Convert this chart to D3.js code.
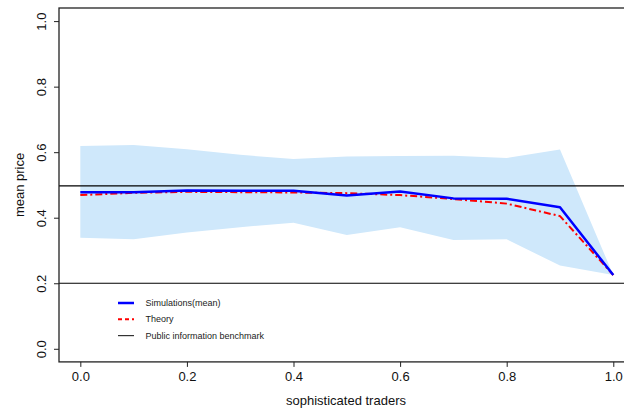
<!DOCTYPE html>
<html>
<head>
<meta charset="utf-8">
<script src="https://cdn.jsdelivr.net/npm/d3@7"></script>
<style>
  html, body { margin: 0; padding: 0; background: #fff; }
  svg { display: block; font-family: "Liberation Sans", Arial, sans-serif; }
</style>
</head>
<body>
<svg id="chart" width="624" height="409"></svg>
<script>
// Share of sophisticated traders
const shares = [0.0, 0.1, 0.2, 0.3, 0.4, 0.5, 0.6, 0.7, 0.8, 0.9, 1.0];
// Mean simulated price
const simMean = [0.478, 0.478, 0.483, 0.482, 0.482, 0.468, 0.480, 0.459, 0.458, 0.432, 0.225];
// Theoretical price
const theory = [0.469, 0.476, 0.479, 0.478, 0.477, 0.475, 0.469, 0.457, 0.443, 0.405, 0.225];
// Simulation range (band)
const bandUpper = [0.619, 0.622, 0.609, 0.592, 0.579, 0.587, 0.588, 0.589, 0.582, 0.608, 0.225];
const bandLower = [0.339, 0.334, 0.355, 0.371, 0.385, 0.347, 0.371, 0.332, 0.334, 0.254, 0.225];
// Public information benchmark levels
const benchmarks = [0.497, 0.2];
// Axis ticks
const xTicks = [0, 0.2, 0.4, 0.6, 0.8, 1.0];
const yTicks = [0, 0.2, 0.4, 0.6, 0.8, 1.0];
const legendItems = ["Simulations(mean)", "Theory", "Public information benchmark"];

const svg = d3.select("#chart");

// Plot region with 4% padding on each side of the data range
const x = d3.scaleLinear().domain([-0.04, 1.04]).range([59, 634.6]);
const y = d3.scaleLinear().domain([-0.04, 1.04]).range([361.9, 8]);

const data = shares.map((s, i) => ({
  s, mean: simMean[i], th: theory[i], lo: bandLower[i], hi: bandUpper[i]
}));

// Range band
svg.append("path")
  .datum(data)
  .attr("fill", "#cfe8fb")
  .attr("d", d3.area().x(d => x(d.s)).y0(d => y(d.lo)).y1(d => y(d.hi)));

// Benchmark lines spanning the full plot width
svg.selectAll(".bench")
  .data(benchmarks)
  .enter().append("line")
  .attr("x1", x(-0.04)).attr("x2", x(1.04))
  .attr("y1", d => y(d)).attr("y2", d => y(d))
  .attr("stroke", "#000").attr("stroke-width", 1.2);

// Theory line (dash-dot)
svg.append("path")
  .datum(data)
  .attr("fill", "none")
  .attr("stroke", "#ff0000")
  .attr("stroke-width", 2)
  .attr("stroke-dasharray", "7,3,2,3")
  .attr("d", d3.line().x(d => x(d.s)).y(d => y(d.th)));

// Simulation mean line
svg.append("path")
  .datum(data)
  .attr("fill", "none")
  .attr("stroke", "#0000ff")
  .attr("stroke-width", 2.5)
  .attr("stroke-linejoin", "round")
  .attr("d", d3.line().x(d => x(d.s)).y(d => y(d.mean)));

// Frame
const frame = svg.append("g").attr("stroke", "#222").attr("stroke-width", 1.3).attr("fill", "none");
frame.append("rect")
  .attr("x", x(-0.04)).attr("y", y(1.04))
  .attr("width", x(1.04) - x(-0.04)).attr("height", y(-0.04) - y(1.04));

// Axes
const xAxis = d3.axisBottom(x).tickValues(xTicks).tickFormat(d3.format(".1f")).tickSize(5).tickPadding(5);
const gx = svg.append("g").attr("transform", `translate(0,${y(-0.04)})`).call(xAxis);
gx.select(".domain").remove();
gx.selectAll("line").attr("stroke", "#222");
gx.selectAll("text").attr("font-size", 13).attr("fill", "#111").attr("font-family", "Liberation Sans, Arial, sans-serif");

const yAxis = d3.axisLeft(y).tickValues(yTicks).tickFormat(d3.format(".1f")).tickSize(5).tickPadding(0);
const gy = svg.append("g").attr("transform", `translate(${x(-0.04)},0)`).call(yAxis);
gy.select(".domain").remove();
gy.selectAll("line").attr("stroke", "#222");
gy.selectAll("text")
  .attr("font-size", 13).attr("fill", "#111").attr("font-family", "Liberation Sans, Arial, sans-serif")
  .attr("x", null).attr("dy", null)
  .attr("text-anchor", "middle")
  .attr("transform", d => `translate(-14,${y(d) - y(d)}) rotate(-90)`)
  .attr("dominant-baseline", "central");
// place rotated labels at their tick positions
gy.selectAll(".tick text").attr("transform", "translate(-18,0) rotate(-90)");

// Axis titles
svg.append("text")
  .attr("x", 346).attr("y", 405)
  .attr("text-anchor", "middle")
  .attr("font-size", 13).attr("fill", "#111")
  .text("sophisticated traders");

svg.append("text")
  .attr("transform", `translate(24,${y(0.5)}) rotate(-90)`)
  .attr("text-anchor", "middle")
  .attr("font-size", 13).attr("fill", "#111")
  .text("mean price");

// Legend
const legend = svg.append("g");
const legendRows = [
  { label: legendItems[0], color: "#0000ff", width: 2.5, dash: null },
  { label: legendItems[1], color: "#ff0000", width: 2, dash: "4,3" },
  { label: legendItems[2], color: "#333", width: 1.2, dash: null }
];
legendRows.forEach((r, i) => {
  const ly = 303 + i * 16.3;
  legend.append("line")
    .attr("x1", 118).attr("x2", 134).attr("y1", ly).attr("y2", ly)
    .attr("stroke", r.color).attr("stroke-width", r.width)
    .attr("stroke-dasharray", r.dash);
  legend.append("text")
    .attr("x", 145.5).attr("y", ly).attr("dy", "0.35em")
    .attr("font-size", 9).attr("fill", "#222")
    .text(r.label);
});
</script>
</body>
</html>
